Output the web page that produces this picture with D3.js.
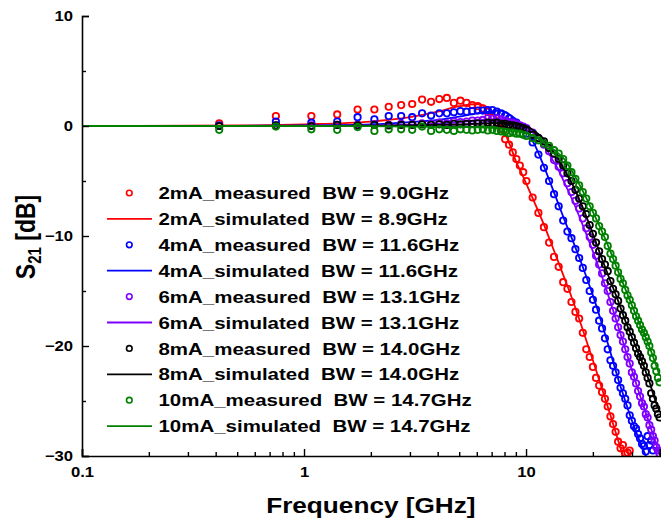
<!DOCTYPE html>
<html>
<head>
<meta charset="utf-8">
<title>S21 frequency response</title>
<style>
  body { margin: 0; background: #fff; }
  svg { display: block; font-family: Arial, "Liberation Sans", sans-serif; font-weight: bold; }
  .legend text { white-space: pre; }
</style>
</head>
<body>
<svg id="chart" width="661" height="527"></svg>

<script src="https://cdnjs.cloudflare.com/ajax/libs/d3/7.8.5/d3.min.js"></script>
<script>
// measured frequency points (GHz)
var freqMeas = [0.415, 0.747, 1.079, 1.411, 1.743, 2.075, 2.407, 2.739, 3.071, 3.403,
  3.735, 4.067, 4.399, 4.731, 5.063, 5.395, 5.727, 6.059, 6.391, 6.723,
  7.055, 7.387, 7.719, 8.051, 8.383, 8.715, 9.047, 9.379, 9.711, 10.04,
  10.71, 11.37, 12.04, 12.70, 13.37, 14.03, 14.70, 15.36, 16.02, 16.69,
  17.35, 18.02, 18.68, 19.35, 20.01, 20.67, 21.34, 22.00, 22.67, 23.33,
  24.00, 24.66, 25.32, 25.99, 26.65, 27.32, 27.98, 28.65, 29.31, 29.97,
  30.64, 31.30, 31.97, 32.63, 33.30, 33.96, 34.62, 35.29, 35.95, 36.62,
  37.28, 37.95, 38.61, 39.28, 39.94]

var meas2mA = [0.25, 0.9, 0.9, 1.05, 1.5, 1.5, 1.75, 1.9, 2.0, 2.4,
  2.2, 2.45, 2.55, 2.1, 2.3, 2.1, 1.9, 1.8, 1.6, 1.3,
  0.8, 0.3, -0.3, -1.2, -1.7, -2.4, -3.0, -3.6, -4.2, -5.0,
  -6.5, -7.9, -9.2, -10.6, -11.9, -12.8, -14.2, -14.8, -16.0, -16.9,
  -17.5, -18.8, -20.3, -21.0, -21.9, -22.9, -23.6, -24.2, -24.8, -25.5,
  -26.4, -27.1, -27.8, -28.7, -29.3, -29.0, -29.8, -29.7, -29.5, null,
  null, null, null, null, null, null, null, null, null, null,
  null, null, null, null, null]

var meas4mA = [0.05, 0.4, 0.3, 0.4, 0.8, 0.6, 0.9, 0.9, 0.8, 1.15,
  0.95, 1.15, 1.15, 1.25, 1.35, 1.3, 1.35, 1.4, 1.4, 1.45,
  1.45, 1.3, 1.15, 0.95, 0.7, 0.45, 0.3, 0.0, -0.3, -0.7,
  -1.5, -2.6, -3.8, -5.0, -6.2, -7.3, -8.6, -9.6, -10.2, -11.2,
  -12.0, -12.9, -14.0, -15.0, -15.8, -16.7, -17.7, -18.4, -19.3, -20.3,
  -21.3, -21.8, -22.4, -23.1, -23.8, -24.3, -24.8, -25.4, -26.3, -26.8,
  -27.3, -27.5, -28.0, -28.4, -28.9, -29.1, -29.6, -28.2, -29.0, -28.6,
  -29.5, null, null, null, null]

var meas6mA = [0.0, 0.05, 0.05, 0.1, 0.1, 0.15, 0.1, 0.2, 0.15, 0.25,
  0.2, 0.3, 0.25, 0.4, 0.35, 0.4, 0.5, 0.5, 0.55, 0.7,
  0.65, 0.7, 0.6, 0.5, 0.35, 0.3, 0.2, 0.05, -0.05, -0.2,
  -0.6, -1.1, -1.7, -2.3, -3.1, -3.7, -4.3, -5.2, -6.0, -6.8,
  -7.5, -8.4, -9.3, -10.1, -10.8, -11.8, -12.6, -13.4, -14.3, -15.0,
  -16.0, -16.8, -17.5, -18.3, -19.0, -19.6, -20.3, -21.0, -21.6, -22.4,
  -22.8, -23.4, -24.1, -24.6, -25.2, -25.5, -26.2, -26.5, -27.2, -27.6,
  -28.2, -28.6, -29.2, -29.5, -29.8]

var meas8mA = [0.0, 0.05, 0.0, 0.1, 0.05, 0.1, 0.05, 0.1, 0.1, 0.15,
  0.1, 0.15, 0.1, 0.2, 0.15, 0.2, 0.2, 0.25, 0.2, 0.3,
  0.25, 0.3, 0.2, 0.2, 0.1, 0.05, 0.0, -0.1, -0.2, -0.35,
  -0.8, -1.1, -1.4, -2.0, -2.5, -3.0, -3.6, -4.3, -5.0, -5.8,
  -6.6, -7.3, -8.0, -9.0, -9.8, -10.6, -11.4, -12.1, -12.6, -13.2,
  -14.1, -14.8, -15.3, -15.9, -16.6, -17.2, -17.7, -18.3, -18.7, -19.2,
  -19.7, -20.2, -20.7, -21.0, -21.4, -21.8, -22.4, -22.9, -23.4, -24.3,
  -24.8, -25.4, -25.7, -26.2, -26.5]

var meas10mA = [-0.35, -0.05, -0.3, -0.35, -0.1, -0.45, -0.3, -0.3, -0.35, -0.05,
  -0.45, -0.3, -0.35, -0.45, -0.3, -0.35, -0.4, -0.35, -0.3, -0.4,
  -0.35, -0.45, -0.5, -0.55, -0.65, -0.6, -0.7, -0.7, -0.8, -0.9,
  -1.1, -1.3, -1.6, -1.8, -2.2, -2.5, -3.0, -3.6, -4.2, -4.8,
  -5.4, -6.0, -6.6, -7.3, -7.9, -8.4, -9.1, -9.6, -10.1, -10.9,
  -11.6, -12.1, -12.7, -13.3, -13.9, -14.3, -14.9, -15.4, -15.8, -16.3,
  -16.8, -17.3, -17.7, -18.1, -18.5, -18.8, -19.2, -19.6, -20.0, -20.6,
  -21.1, -21.8, -22.3, -22.9, -23.3]

// simulated curves
var freqSim = [0.1, 0.5, 1, 2, 3, 4, 5, 6, 6.5, 7, 7.5, 8, 8.5, 9, 9.5, 10, 11, 12, 13, 14,
  15, 16, 18, 20, 22, 24, 26, 28, 30, 32, 34, 36, 38, 40]

var sim2mA = [0, 0.05, 0.15, 0.4, 0.8, 1.3, 1.8, 2.0, 1.8, 1.3, 0.5, -0.6, -1.8, -3.2, -4.2, -5.2, -7.1, -8.9, -10.7, -12.4,
  -14.0, -15.5, -18.5, -21.3, -23.9, -26.3, -28.6, -30.7, null, null, null, null, null, null]
var sim4mA = [0, 0.02, 0.05, 0.15, 0.35, 0.55, 0.85, 1.15, 1.25, 1.35, 1.4, 1.3, 1.0, 0.6, 0.1, -0.4, -1.8, -3.6, -5.4, -7.1,
  -8.7, -10.1, -12.8, -15.4, -18.0, -20.6, -23.0, -25.0, -26.8, -28.3, -29.6, -30.8, null, null]
var sim6mA = [0, 0, 0.02, 0.05, 0.12, 0.22, 0.35, 0.5, 0.55, 0.6, 0.62, 0.6, 0.5, 0.4, 0.2, -0.1, -0.8, -1.6, -2.9, -4.0,
  -5.3, -6.5, -9.0, -11.4, -13.7, -16.0, -18.2, -20.3, -22.2, -24.0, -25.6, -27.1, -28.5, -29.9]
var sim8mA = [0, 0, 0.01, 0.03, 0.06, 0.1, 0.15, 0.2, 0.22, 0.25, 0.27, 0.28, 0.25, 0.2, 0.1, 0, -0.5, -1.2, -2.1, -3.0,
  -4.1, -5.1, -7.4, -9.8, -12.1, -14.1, -15.9, -17.7, -19.2, -20.6, -21.9, -23.3, -24.8, -26.0]
var sim10mA = [0, 0, 0, -0.02, -0.05, -0.08, -0.1, -0.12, -0.14, -0.16, -0.2, -0.25, -0.3, -0.4, -0.5, -0.6, -1.0, -1.5, -2.0, -2.5,
  -3.1, -4.0, -5.9, -7.8, -9.6, -11.4, -13.2, -14.8, -16.3, -17.7, -18.9, -20.1, -21.4, -22.7]

var colors = ['#ff0000', '#0000ff', '#8000ff', '#000000', '#008000']
var measured = [meas2mA, meas4mA, meas6mA, meas8mA, meas10mA]
var simulated = [sim2mA, sim4mA, sim6mA, sim8mA, sim10mA]
var legendLabels = [
  '2mA_measured  BW = 9.0GHz', '2mA_simulated  BW = 8.9GHz',
  '4mA_measured  BW = 11.6GHz', '4mA_simulated  BW = 11.6GHz',
  '6mA_measured  BW = 13.1GHz', '6mA_simulated  BW = 13.1GHz',
  '8mA_measured  BW = 14.0GHz', '8mA_simulated  BW = 14.0GHz',
  '10mA_measured  BW = 14.7GHz', '10mA_simulated  BW = 14.7GHz'
]
var xTicks = [0.1, 1, 10]
var xTickLabels = ['0.1', '1', '10']
var yTicks = [-30, -20, -10, 0, 10]

var SX = 1.19  // the original picture is horizontally stretched
var svg = d3.select('#chart')
var margin = { top: 16, right: 1.3, bottom: 71, left: 82 }
var W = +svg.attr('width'), H = +svg.attr('height')

var x = d3.scaleLog().domain([0.1, 40]).range([margin.left, W - margin.right])
var y = d3.scaleLinear().domain([-30, 10]).range([H - margin.bottom, margin.top])

function stretchText(sel) {
  sel.each(function() {
    var t = d3.select(this)
    var tx = +t.attr('x') || 0
    t.attr('x', tx / SX).attr('transform', 'scale(' + SX + ',1)')
  })
}

svg.append('clipPath').attr('id', 'plot-clip')
  .append('rect')
  .attr('x', margin.left).attr('y', margin.top)
  .attr('width', W - margin.left).attr('height', y(-30) - margin.top)

var plot = svg.append('g').attr('clip-path', 'url(#plot-clip)')

var line = d3.line()
  .defined(function(d) { return d[1] != null })
  .x(function(d) { return x(d[0]) })
  .y(function(d) { return y(d[1]) })
  .curve(d3.curveMonotoneX)

measured.forEach(function(series, i) {
  var pts = freqMeas.map(function(f, j) { return [f, series[j]] })
    .filter(function(d) { return d[1] != null })
  plot.append('g')
    .selectAll('circle')
    .data(pts)
    .enter().append('circle')
      .attr('cx', function(d) { return x(d[0]) })
      .attr('cy', function(d) { return y(d[1]) })
      .attr('r', 3.2)
      .attr('fill', 'none')
      .attr('stroke', colors[i])
      .attr('stroke-width', 1.8)

  var simPts = freqSim.map(function(f, j) { return [f, simulated[i][j]] })
  plot.append('path')
    .datum(simPts)
    .attr('d', line)
    .attr('fill', 'none')
    .attr('stroke', colors[i])
    .attr('stroke-width', 1.8)
})

// axes
var yAxis = svg.append('g')
  .attr('transform', 'translate(' + margin.left + ',0)')
  .call(d3.axisLeft(y).tickValues(yTicks).tickSize(-7).tickPadding(9))
svg.append('g')
  .attr('transform', 'translate(' + margin.left + ',0)')
  .call(d3.axisLeft(y).tickValues([-25, -15, -5, 5]).tickSize(-4).tickFormat(''))
  .select('.domain').remove()

var xMinor = []
;[0.1, 1, 10].forEach(function(dec) {
  for (var k = 2; k <= 9; k++) if (dec * k <= 40) xMinor.push(dec * k)
})
var xAxis = svg.append('g')
  .attr('transform', 'translate(0,' + y(-30) + ')')
  .call(d3.axisBottom(x).tickValues(xTicks)
    .tickFormat(function(d, i) { return xTickLabels[i] })
    .tickSize(-7).tickPadding(11))
svg.append('g')
  .attr('transform', 'translate(0,' + y(-30) + ')')
  .call(d3.axisBottom(x).tickValues(xMinor).tickSize(-4).tickFormat(''))
  .select('.domain').remove()

svg.selectAll('.domain').attr('stroke-width', 1.6).attr('stroke', '#000')
svg.selectAll('.tick line').attr('stroke-width', 1.4)
svg.selectAll('.tick text')
  .attr('font-size', 14).attr('font-weight', 'bold')
  .attr('font-family', 'Arial, "Liberation Sans", sans-serif').attr('fill', '#000')
stretchText(yAxis.selectAll('.tick text'))
stretchText(xAxis.selectAll('.tick text'))

// axis titles
var xTitle = svg.append('text')
  .attr('x', (margin.left + W - margin.right) / 2)
  .attr('y', 513)
  .attr('text-anchor', 'middle')
  .attr('font-size', 22)
  .text('Frequency [GHz]')
stretchText(xTitle)

var yTitle = svg.append('text')
  .attr('transform', 'translate(35,' + 237 + ') scale(' + SX + ',1) rotate(-90)')
  .attr('text-anchor', 'middle')
  .attr('font-size', 23)
yTitle.append('tspan').text('S')
yTitle.append('tspan').attr('font-size', 15).attr('dy', 5).text('21')
yTitle.append('tspan').attr('dy', -5).text(' [dB]')
yTitle.style('white-space', 'pre')

// legend
var legend = svg.append('g').attr('class', 'legend')
var rows = legend.selectAll('g')
  .data(legendLabels)
  .enter().append('g')
    .attr('transform', function(d, i) { return 'translate(0,' + (193 + i * 25.9) + ')' })

rows.each(function(d, i) {
  var g = d3.select(this)
  var c = colors[Math.floor(i / 2)]
  if (i % 2 === 0) {
    g.append('circle').attr('cx', 129.3).attr('cy', 0).attr('r', 2.8)
      .attr('fill', 'none').attr('stroke', c).attr('stroke-width', 1.6)
  } else {
    g.append('line').attr('x1', 107).attr('x2', 152).attr('y1', 0).attr('y2', 0)
      .attr('stroke', c).attr('stroke-width', 1.8)
  }
  var t = g.append('text').attr('x', 158.5).attr('dy', '0.36em')
    .attr('font-size', 17.2).text(d)
  stretchText(t)
})
</script>
</body>
</html>
